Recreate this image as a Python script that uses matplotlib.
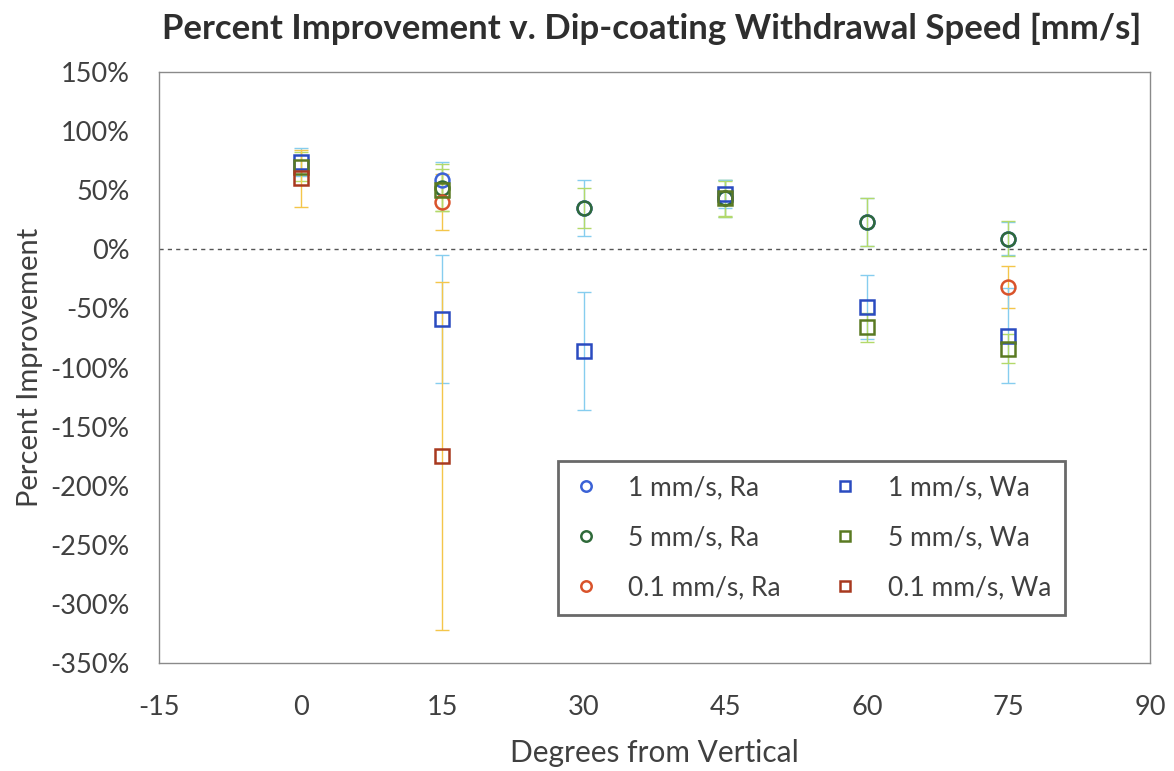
import numpy as np
import matplotlib
matplotlib.use("Agg")
import matplotlib.pyplot as plt
from matplotlib.ticker import FuncFormatter

plt.rcParams['font.family'] = ['Lato', 'DejaVu Sans']
plt.rcParams['axes.unicode_minus'] = False

# angulos (grados desde la vertical)
angles = [0, 15, 30, 45, 60, 75]

# Ra (circulos)
ra_1 = [np.nan, 59, 35, 43, 23, 9]
ra_1_err = [np.nan, 15, 24, 16, 20, 14]
ra_5 = [np.nan, 52, 35, 43, 23, 9]
ra_5_err = [np.nan, 20, 17, 16, 20, 15]
ra_01 = [np.nan, 40, np.nan, np.nan, np.nan, -32]
ra_01_err = [np.nan, 24, np.nan, np.nan, np.nan, 18]

# Wa (cuadrados)
wa_1 = [74, -59, -86, 47, -49, -73]
wa_1_err = [12, 54, 50, 12, 27, 40]
wa_5 = [70, 50, np.nan, 43, -66, -84]
wa_5_err = [12, 18, np.nan, 15, 12, 12]
wa_01 = [60, -175, np.nan, np.nan, np.nan, np.nan]
wa_01_err = [24, 147, np.nan, np.nan, np.nan, np.nan]

labels = ["1 mm/s, Ra", "5 mm/s, Ra", "0.1 mm/s, Ra",
          "1 mm/s, Wa", "5 mm/s, Wa", "0.1 mm/s, Wa"]

fig = plt.figure(figsize=(11.74, 7.71), dpi=100)
ax = fig.add_axes([0.1354, 0.140, 0.8442, 0.7666])

series = [
    (ra_1, ra_1_err, 'o', '#3b62d6', '#86cdef'),
    (ra_5, ra_5_err, 'o', '#2f6a3a', '#b3d96a'),
    (ra_01, ra_01_err, 'o', '#d9532b', '#f4c64a'),
    (wa_1, wa_1_err, 's', '#2a4bc0', '#86cdef'),
    (wa_5, wa_5_err, 's', '#5a7a22', '#b3d96a'),
    (wa_01, wa_01_err, 's', '#a8391f', '#f4c64a'),
]

handles = []
for (vals, errs, mk, col, ecol), lab in zip(series, labels):
    ax.errorbar(angles, vals, yerr=errs, fmt='none', ecolor=ecol,
                elinewidth=1.0, capsize=5, capthick=1.0, zorder=2)
    h, = ax.plot(angles, vals, linestyle='none', marker=mk, markersize=10,
                 markerfacecolor='none', markeredgecolor=col,
                 markeredgewidth=1.8, label=lab, zorder=3)
    handles.append(h)

ax.axhline(0, color='#555555', linestyle=(0, (3, 3)), linewidth=1.0, zorder=1)

ax.set_xlim(-15, 90)
ax.set_ylim(-350, 150)
ax.set_xticks(np.arange(-15, 91, 15))
ax.set_yticks(np.arange(-350, 151, 50))
ax.yaxis.set_major_formatter(FuncFormatter(lambda v, p: f"{v:.0f}%"))
ax.tick_params(length=0, labelsize=19.5, colors='#404040')
ax.tick_params(axis='y', pad=21)
ax.tick_params(axis='x', pad=23)
for s in ax.spines.values():
    s.set_color('#8a8a8a')
    s.set_linewidth(1.0)

ax.set_xlabel("Degrees from Vertical", fontsize=21.5, color='#404040', labelpad=14)
ax.set_ylabel("Percent Improvement", fontsize=21, color='#404040', labelpad=5)
fig.text(0.555, 0.962, "Percent Improvement v. Dip-coating Withdrawal Speed [mm/s]",
         ha='center', va='center', fontsize=25, fontweight='bold', color='#2e2e2e')

# orden de la leyenda: columnas Ra / Wa
leg = ax.legend(handles=handles, loc='lower left',
                bbox_to_anchor=(0.4026, 0.081, 0.512, 0.266), mode='expand',
                ncol=2, fontsize=19, frameon=True, fancybox=False,
                borderaxespad=0, handlelength=1.0, handletextpad=1.1,
                labelspacing=0.95, columnspacing=2.0, markerscale=0.75,
                borderpad=0.55)
for t in leg.get_texts():
    t.set_color('#404040')
leg.get_frame().set_edgecolor('#444444')
leg.get_frame().set_linewidth(2.0)

fig.savefig("out.png", dpi=100)
